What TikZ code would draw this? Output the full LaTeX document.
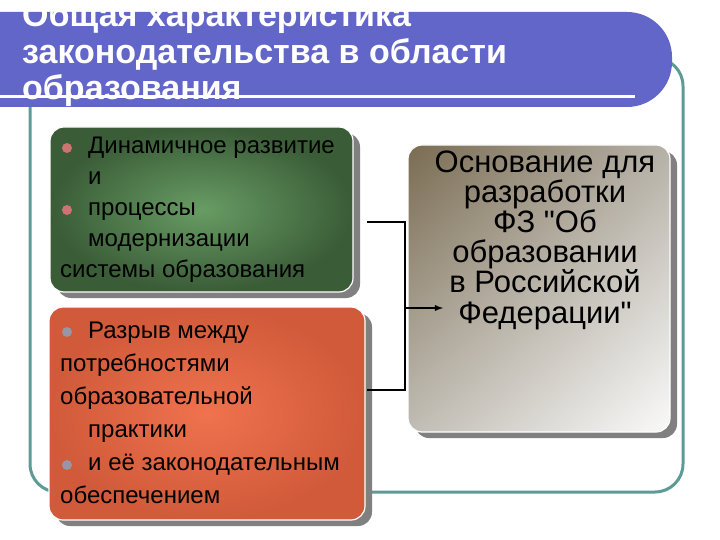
\documentclass[tikz,border=0pt]{standalone}
\usepackage{fontspec}
\setmainfont{Liberation Sans}
\usetikzlibrary{shadows, shadings}

\definecolor{bandeau}{RGB}{99,102,201}
\definecolor{cadre}{RGB}{94,154,150}
\definecolor{ombre}{RGB}{128,128,128}
\definecolor{vertClair}{RGB}{104,156,100}
\definecolor{vertFonce}{RGB}{58,92,55}
\definecolor{orangeClair}{RGB}{240,114,78}
\definecolor{orangeFonce}{RGB}{208,90,58}
\definecolor{grisFonce}{RGB}{122,108,82}
\definecolor{grisMoyen}{RGB}{182,177,167}
\definecolor{grisClair}{RGB}{250,250,250}
\definecolor{puceRose}{RGB}{205,115,115}
\definecolor{puceGrise}{RGB}{150,150,165}

\tikzset{
  boite/.style={rounded corners=14pt, draw=white, line width=1.2pt,
    drop shadow={shadow xshift=7pt, shadow yshift=-6pt, fill=ombre, opacity=1}},
  titre/.style={font=\fontsize{34}{36.5}\selectfont\bfseries, text=white, align=left,
    anchor=base west, inner sep=0pt},
  texte/.style={font=\fontsize{24}{32}\selectfont, align=left, anchor=base west, inner sep=0pt},
  texteFZ/.style={font=\fontsize{31}{30.2}\selectfont, align=center, anchor=base, inner sep=0pt},
  puce/.style={circle, inner sep=0pt, minimum size=10pt},
  lien/.style={line width=1.8pt},
}

\begin{document}
\begin{tikzpicture}[x=1pt, y=-1pt, >=latex]
  \useasboundingbox (0,0) rectangle (720,540);
  \clip (0,0) rectangle (720,540);

  % Cadre
  \draw[cadre, line width=3pt, rounded corners=28pt] (30,58) rectangle (683,492);

  % Bandeau du titre
  \fill[bandeau, rounded corners=45pt] (-50,12) rectangle (672,107);
  \node[titre] (titre) at (22,100) {Общая характеристика\\законодательства в области\\образования};
  \draw[white, line width=3pt] (0,97) -- (635,97);

  % Boites
  \node[boite, shade, inner color=vertClair, outer color=vertFonce,
    minimum width=303pt, minimum height=165pt] (vert) at (201.5,209.5) {};
  \node[boite, shade, inner color=orangeClair, outer color=orangeFonce,
    minimum width=316pt, minimum height=213pt] (orange) at (207,413.5) {};
  \node[boite, shade, upper left=grisFonce, upper right=grisMoyen, lower left=grisMoyen!85!white,
    lower right=grisClair, minimum width=262pt, minimum height=287pt] (gris) at (539,288.5) {};

  % Textes
  \node[texte, font=\fontsize{24}{31}\selectfont] (texteVert) at (60,277)
    {\hspace*{28pt}Динамичное развитие\\\hspace*{28pt}и\\\hspace*{28pt}процессы\\
     \hspace*{28pt}модернизации\\системы образования};
  \node[texte, font=\fontsize{24}{33}\selectfont] (texteOrange) at (60,503)
    {\hspace*{28pt}Разрыв между\\потребностями\\образовательной\\\hspace*{28pt}практики\\
     \hspace*{28pt}и её законодательным\\обеспечением};
  \node[texteFZ] (texteFZ) at (545,323)
    {Основание для\\разработки\\ФЗ \textquotedbl Об\\образовании\\в Российской\\Федерации\textquotedbl};

  % Puces
  \node[puce, fill=puceRose] (puceA) at (67,148) {};
  \node[puce, fill=puceRose] (puceB) at (67,210) {};
  \node[puce, fill=puceGrise] (puceC) at (67,332) {};
  \node[puce, fill=puceGrise] (puceD) at (67,465) {};

  % Liaisons
  \coordinate (brancheHaut) at (367,222);
  \coordinate (angleHaut) at (405,222);
  \coordinate (angleBas) at (405,390);
  \coordinate (brancheBas) at (367,390);
  \coordinate (jonction) at (405,308);
  \coordinate (pointe) at (443,308);
  \draw[lien] (brancheHaut) -- (angleHaut) -- (angleBas) -- (brancheBas);
  \draw[lien, ->] (jonction) -- (pointe);
\end{tikzpicture}
\end{document}
